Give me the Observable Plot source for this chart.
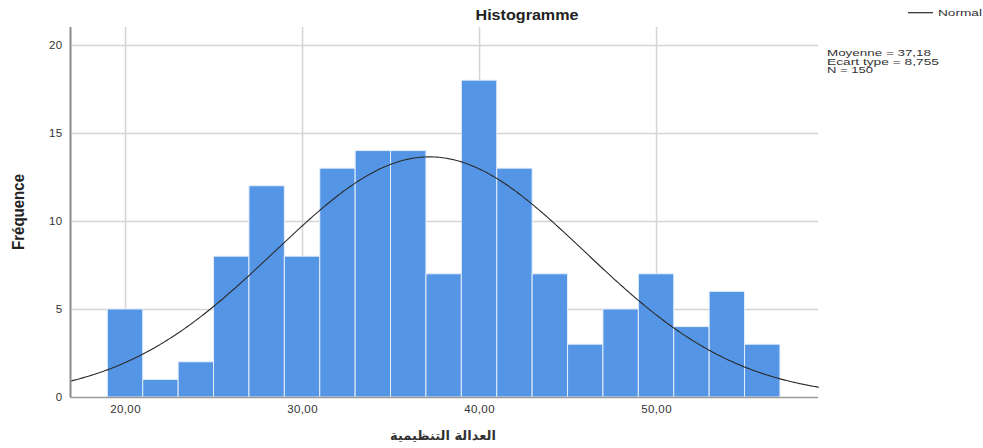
<!DOCTYPE html>
<html><head><meta charset="utf-8">
<script src="https://cdn.jsdelivr.net/npm/d3@7"></script>
<script src="https://cdn.jsdelivr.net/npm/@observablehq/plot@0.6"></script>
<style>
body{margin:0;background:#fff;}
#chart{position:relative;width:983px;height:448px;}
</style>
</head><body><div id="chart"></div>
<script>
// Data
const binStarts = [19,21,23,25,27,29,31,33,35,37,39,41,43,45,47,49,51,53,55];
const binWidth = 2;
const counts = [5,1,2,8,12,8,13,14,14,7,18,13,7,3,5,7,4,6,3];
const xTicks = [20,30,40,50];
const xTickLabels = ["20,00","30,00","40,00","50,00"];
const yTicks = [0,5,10,15,20];
const mean = 37.18, sd = 8.755, N = 150;
const statLines = ["Moyenne = 37,18","Ecart type = 8,755","N = 150"];
const titleText = "Histogramme";
const xLabel = "العدالة التنظيمية";
const yLabel = "Fréquence";
const legendLabel = "Normal";

const bars = binStarts.map((s,i)=>({x1:s, x2:s+binWidth, y:counts[i]}));
const xDomain = [16.89, 59.15];
const curve = d3.range(0, 401).map(i => {
  const x = xDomain[0] + (xDomain[1]-xDomain[0])*i/400;
  const z = (x-mean)/sd;
  return {x, y: N*binWidth*Math.exp(-0.5*z*z)/(sd*Math.sqrt(2*Math.PI))};
});

const W = 983, H = 448, mL = 70, mR = 165, mT = 27, mB = 51;
const plot = Plot.plot({
  width: W, height: H,
  marginLeft: mL, marginRight: mR, marginTop: mT, marginBottom: mB,
  style: {fontFamily: "'Liberation Sans', Arial, sans-serif", fontSize: "11.5px", color: "#333", background: "white", letterSpacing: "0.4px"},
  x: {domain: xDomain, ticks: xTicks, tickFormat: (d)=>xTickLabels[xTicks.indexOf(d)], tickSize: 0, tickPadding: 7, label: null},
  y: {domain: [0, 21.02], ticks: yTicks, tickSize: 0, tickPadding: 8, label: null},
  marks: [
    Plot.gridX(xTicks, {stroke: "#d4d4d4", strokeOpacity: 1, strokeWidth: 1.5}),
    Plot.gridY(yTicks.filter(d=>d>0), {stroke: "#d4d4d4", strokeOpacity: 1, strokeWidth: 1.5}),
    Plot.rectY(bars, {x1: "x1", x2: "x2", y: "y", fill: "#5595e5", stroke: "#e4eefb", strokeWidth: 1}),
    Plot.line(curve, {x: "x", y: "y", stroke: "#2a2a2a", strokeWidth: 1.1}),
    Plot.ruleY([0], {stroke: "#9a9a9a", strokeWidth: 1.5}),
    Plot.ruleX([xDomain[0]], {stroke: "#8a8a8a", strokeWidth: 2})
  ]
});
document.getElementById("chart").appendChild(plot);

const svg = d3.select(plot);
const sans = "'Liberation Sans', Arial, sans-serif";
// Title
svg.append("text").attr("x", 527).attr("y", 20).attr("text-anchor","middle").style("letter-spacing","0px")
  .attr("font-family", sans).attr("font-weight","bold").attr("font-size","15px")
  .attr("textLength", 103).attr("lengthAdjust","spacingAndGlyphs").attr("fill","#222").text(titleText);
// Y label
svg.append("text").attr("transform","translate(24,212) rotate(-90)").attr("text-anchor","middle").style("letter-spacing","0px")
  .attr("font-family", sans).attr("font-weight","bold").attr("font-size","17px")
  .attr("textLength", 76).attr("lengthAdjust","spacingAndGlyphs").attr("fill","#222").text(yLabel);
// X label
svg.append("text").attr("x", 443).attr("y", 440).attr("text-anchor","middle").style("letter-spacing","0px")
  .attr("font-family","'DejaVu Sans', sans-serif").attr("font-weight","bold").attr("font-size","13px").attr("fill","#333").text(xLabel);
// Legend
svg.append("line").attr("x1", 908).attr("x2", 933).attr("y1", 12.7).attr("y2", 12.7).attr("stroke","#2a2a2a").attr("stroke-width",1.2);
svg.append("text").attr("transform", "translate(938,15.8) scale(1,0.64)").attr("text-anchor","start").style("letter-spacing","0px")
  .attr("font-family", sans).attr("font-size","13.5px")
  .attr("textLength", 44).attr("lengthAdjust","spacingAndGlyphs").attr("fill","#333").text(legendLabel);
// Stats
const statWidths = [104, 112, 46];
statLines.forEach((t,i)=>{
  svg.append("text").attr("transform", `translate(827,${56.3 + i*8.4}) scale(1,0.66)`).attr("text-anchor","start").style("letter-spacing","0px")
    .attr("font-family", sans).attr("font-size","13.6px")
    .attr("textLength", statWidths[i]).attr("lengthAdjust","spacingAndGlyphs").attr("fill","#333").text(t);
});
</script>
</body></html>
